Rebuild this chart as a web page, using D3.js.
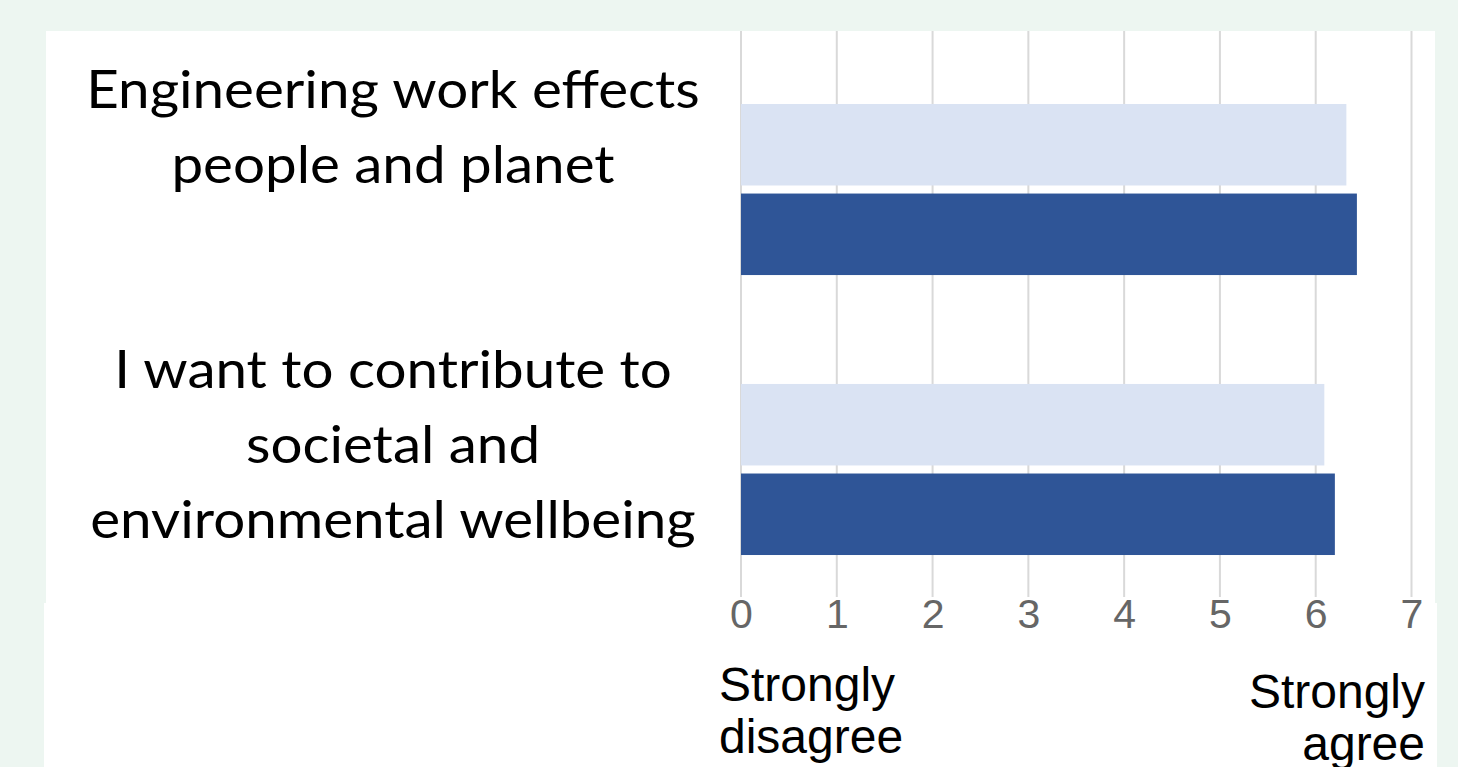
<!DOCTYPE html>
<html>
<head>
<meta charset="utf-8">
<script src="https://cdn.jsdelivr.net/npm/d3@7"></script>
<style>
  html, body { margin: 0; padding: 0; background: #EDF6F1; }
  svg { display: block; }
</style>
</head>
<body>
<svg id="chart" width="1458" height="767"></svg>
<script>
// Survey statements (each split into display lines)
const categories = [
  "Engineering work effects people and planet",
  "I want to contribute to societal and environmental wellbeing"
];
const categoryLines = [
  ["Engineering work effects", "people and planet"],
  ["I want to contribute to", "societal and", "environmental wellbeing"]
];
// Two response groups (light = first, dark = second)
const seriesNames = ["before", "after"];
const beforeValues = [6.32, 6.09];
const afterValues = [6.43, 6.20];
const tickValues = [0, 1, 2, 3, 4, 5, 6, 7];
const scaleEndLabels = [["Strongly", "disagree"], ["Strongly", "agree"]];

const seriesColors = ["#DAE3F3", "#2F5597"];

const svg = d3.select("#chart");

// White panels behind the chart
svg.append("rect").attr("x", 46).attr("y", 31).attr("width", 1389).attr("height", 580).attr("fill", "#fff");
svg.append("rect").attr("x", 44).attr("y", 603).attr("width", 1393).attr("height", 164).attr("fill", "#fff");

const x = d3.scaleLinear().domain([0, 7]).range([741, 1411.5]);
const y = d3.scaleBand().domain(categories).range([49.5, 609.5])
  .paddingInner(0.389).paddingOuter(0.1946);
const ySub = d3.scaleBand().domain(seriesNames).range([0, y.bandwidth()]).paddingInner(0.09);

// Vertical gridlines
svg.append("g").selectAll("line").data(tickValues).join("line")
  .attr("x1", d => x(d)).attr("x2", d => x(d))
  .attr("y1", 31).attr("y2", 597)
  .attr("stroke", "#d9d9d9").attr("stroke-width", 2);

// Bars
const rows = categories.map((c, i) => ({ cat: c, vals: [beforeValues[i], afterValues[i]] }));
const grp = svg.append("g").selectAll("g").data(rows).join("g")
  .attr("transform", d => `translate(0,${y(d.cat)})`);
grp.selectAll("rect").data(d => d.vals.map((v, j) => ({ v, s: seriesNames[j], j }))).join("rect")
  .attr("x", x(0))
  .attr("y", d => ySub(d.s))
  .attr("width", d => x(d.v) - x(0))
  .attr("height", ySub.bandwidth())
  .attr("fill", d => seriesColors[d.j]);

// Axis tick labels
const xAxis = d3.axisBottom(x).tickValues(tickValues).tickSize(0).tickPadding(0).tickFormat(d3.format("d"));
const axisG = svg.append("g").attr("transform", "translate(0,597)").call(xAxis);
axisG.select(".domain").remove();
axisG.selectAll("text")
  .attr("y", 30.5).attr("dy", 0)
  .attr("font-family", "'Liberation Sans', Arial, sans-serif")
  .attr("font-size", 41)
  .attr("fill", "#666");

// Category labels (slightly widened to the original typeface's set width)
const labelCx = 393;
const labelG = svg.append("g")
  .attr("transform", `translate(${labelCx},0) scale(1.087,1) translate(${-labelCx},0)`);
categories.forEach((c, i) => {
  const t = labelG.append("text")
    .attr("x", labelCx)
    .attr("y", y(c) + 4)
    .attr("text-anchor", "middle")
    .attr("font-family", "Lato, sans-serif")
    .attr("font-size", 52)
    .attr("fill", "#000");
  categoryLines[i].forEach((line, k) => {
    t.append("tspan").attr("x", labelCx).attr("dy", k === 0 ? 0 : 75).text(line);
  });
});

// Scale end labels
const endG = svg.append("g")
  .attr("font-family", "'Liberation Sans', Arial, sans-serif")
  .attr("font-size", 48).attr("fill", "#000");
const left = endG.append("text").attr("x", 719).attr("y", 701);
scaleEndLabels[0].forEach((l, k) => left.append("tspan").attr("x", 719).attr("dy", k ? 52 : 0).text(l));
const right = endG.append("text").attr("x", 1425).attr("y", 708).attr("text-anchor", "end");
scaleEndLabels[1].forEach((l, k) => right.append("tspan").attr("x", 1425).attr("dy", k ? 52 : 0).text(l));
</script>
</body>
</html>
